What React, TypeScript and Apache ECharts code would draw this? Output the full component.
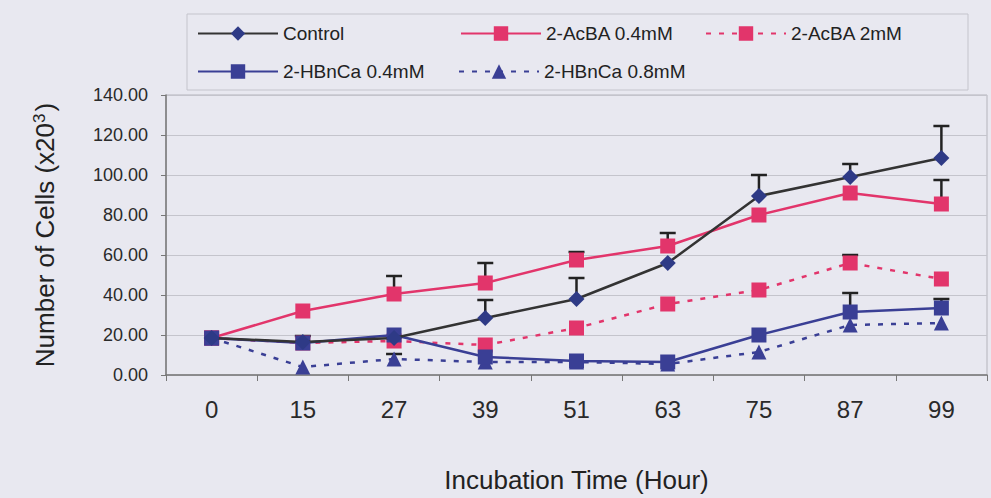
import React, { useEffect, useRef } from "react";
import * as echarts from "echarts";

const categories = ["0", "15", "27", "39", "51", "63", "75", "87", "99"];
const yTicks = [0, 20, 40, 60, 80, 100, 120, 140];

const control = [18.5, 16.5, 18.5, 28.5, 38, 56, 89.5, 99, 108.5];
const controlUpper = [null, null, null, 37.5, 48.5, null, 100, 105.5, 124.5];
const acba04 = [18.5, 32, 40.5, 46, 57.5, 64.5, 80, 91, 85.5];
const acba04Upper = [null, null, 49.5, 56, 61.5, 71, null, null, 97.5];
const acba2 = [18.5, 16, 17, 15, 23.5, 35.5, 42.5, 56, 48];
const acba2Upper = [null, null, null, null, null, null, null, 60, null];
const hbn04 = [18.5, 16, 20, 9, 7, 6.5, 20, 31.5, 33.5];
const hbn04Upper = [null, 19.5, null, null, null, null, null, 41, 38];
const hbn08 = [18.5, 4, 8, 6.5, 6.5, 5.5, 11.5, 25, 26];
const hbn08Upper = [null, null, 10.5, null, null, null, null, null, null];

const seriesNames = ["Control", "2-AcBA 0.4mM", "2-AcBA 2mM", "2-HBnCa 0.4mM", "2-HBnCa 0.8mM"];

const FONT = "Liberation Sans, Arial, sans-serif";
const RED = "#e2356b";
const NAVY = "#3a3f95";

function errData(mean: number[], upper: (number | null)[]) {
  const out: number[][] = [];
  upper.forEach((u, i) => {
    if (u !== null) out.push([i, mean[i], u]);
  });
  return out;
}

export default function App() {
  const ref = useRef<HTMLDivElement>(null);
  useEffect(() => {
    if (!ref.current) return;
    const chart = echarts.init(ref.current, undefined, { renderer: "svg" });

    const errSeries = (mean: number[], upper: (number | null)[]) => ({
      type: "custom",
      silent: true,
      z: 1,
      data: errData(mean, upper),
      encode: { x: 0, y: [1, 2] },
      renderItem: (params: any, api: any) => {
        const x = api.value(0);
        const p0 = api.coord([x, api.value(1)]);
        const p1 = api.coord([x, api.value(2)]);
        const st = { stroke: "#222", lineWidth: 2.5 };
        return {
          type: "group",
          children: [
            { type: "line", shape: { x1: p0[0], y1: p0[1], x2: p1[0], y2: p1[1] }, style: st },
            { type: "line", shape: { x1: p1[0] - 8, y1: p1[1], x2: p1[0] + 8, y2: p1[1] }, style: st },
          ],
        };
      },
    });

    const legendItem = (name: string, left: number, top: number) => ({
      data: [name],
      left,
      top,
      padding: 0,
      itemWidth: 80,
      itemHeight: 18,
      itemGap: 0,
      textStyle: { fontSize: 19, color: "#222", fontFamily: FONT },
    });

    chart.setOption({
      animation: false,
      backgroundColor: "#e8e8f0",
      textStyle: { fontFamily: FONT },
      legend: [
        legendItem(seriesNames[0], 197, 24),
        legendItem(seriesNames[1], 460, 24),
        legendItem(seriesNames[2], 705, 24),
        legendItem(seriesNames[3], 197, 62),
        legendItem(seriesNames[4], 458, 62),
      ],
      graphic: [
        {
          type: "rect",
          shape: { x: 187, y: 14, width: 781, height: 76 },
          style: { fill: "none", stroke: "#c4c4cc", lineWidth: 1 },
          silent: true,
        },
      ],
      grid: {
        left: 166,
        right: 4,
        top: 95,
        bottom: 123,
        show: true,
        borderColor: "#b4b4bc",
        borderWidth: 1,
      },
      xAxis: {
        type: "category",
        data: categories,
        boundaryGap: true,
        axisLine: { lineStyle: { color: "#777", width: 1.5 } },
        axisTick: { show: true, length: 6, inside: false, lineStyle: { color: "#777" } },
        axisLabel: { fontSize: 24, color: "#2a2a2a", margin: 22, fontFamily: FONT },
        name: "Incubation Time (Hour)",
        nameLocation: "middle",
        nameGap: 92,
        nameTextStyle: { fontSize: 26, color: "#222", fontFamily: FONT },
      },
      yAxis: {
        type: "value",
        min: 0,
        max: 140,
        interval: 20,
        axisLine: { show: true, lineStyle: { color: "#777", width: 1.5 } },
        axisTick: { show: true, length: 5, lineStyle: { color: "#777" } },
        axisLabel: {
          fontSize: 18,
          color: "#2a2a2a",
          margin: 18,
          fontFamily: FONT,
          formatter: (v: number) => (yTicks.includes(v) ? v.toFixed(2) : ""),
        },
        splitLine: { show: true, lineStyle: { color: "#c4c4cc", width: 1 } },
        name: "Number of Cells (x20{sup|3})",
        nameLocation: "middle",
        nameGap: 108,
        nameRotate: 90,
        nameTextStyle: {
          fontSize: 26,
          color: "#222",
          fontFamily: FONT,
          rich: {
            sup: { fontSize: 17, color: "#222", fontFamily: FONT, verticalAlign: "top", padding: [0, 2, 10, 0] },
          },
        },
      },
      series: [
        errSeries(control, controlUpper),
        errSeries(acba04, acba04Upper),
        errSeries(acba2, acba2Upper),
        errSeries(hbn04, hbn04Upper),
        errSeries(hbn08, hbn08Upper),
        {
          name: seriesNames[2],
          type: "line",
          data: acba2,
          z: 3,
          symbol: "rect",
          symbolSize: 15,
          itemStyle: { color: RED },
          lineStyle: { color: RED, width: 2.5, type: [5, 8] },
        },
        {
          name: seriesNames[1],
          type: "line",
          data: acba04,
          z: 3,
          symbol: "rect",
          symbolSize: 15,
          itemStyle: { color: RED },
          lineStyle: { color: RED, width: 2.5 },
        },
        {
          name: seriesNames[4],
          type: "line",
          data: hbn08,
          z: 4,
          symbol: "triangle",
          symbolSize: 15,
          itemStyle: { color: NAVY },
          lineStyle: { color: NAVY, width: 2.5, type: [5, 8] },
        },
        {
          name: seriesNames[3],
          type: "line",
          data: hbn04,
          z: 4,
          symbol: "rect",
          symbolSize: 15,
          itemStyle: { color: NAVY },
          lineStyle: { color: NAVY, width: 2.5 },
        },
        {
          name: seriesNames[0],
          type: "line",
          data: control,
          z: 5,
          symbol: "diamond",
          symbolSize: 16,
          itemStyle: { color: "#2e3a86" },
          lineStyle: { color: "#333", width: 2.5 },
        },
      ],
    });
    return () => chart.dispose();
  }, []);
  return (
    <div
      ref={ref}
      style={{ position: "fixed", left: 0, top: 0, width: 991, height: 498 }}
    />
  );
}
